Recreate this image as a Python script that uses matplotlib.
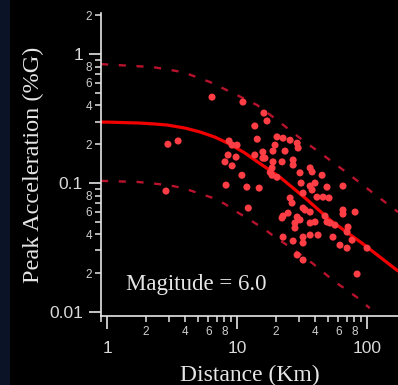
import matplotlib
matplotlib.use('Agg')
import matplotlib.pyplot as plt
from matplotlib.ticker import LogLocator, FuncFormatter
from matplotlib.patches import Rectangle

# recorded peak accelerations (%G) vs distance (km)
dist = [6.42, 11.1, 16.1, 17.0, 13.7, 2.94, 3.52, 8.68, 9.16, 10.0,
        14.3, 20.3, 22.6, 25.6, 29.0, 19.6, 18.9, 23.4, 29.5, 15.8,
        13.7, 16.4, 8.53, 9.83, 8.08, 9.16, 18.9, 22.2, 27.0, 27.0,
        18.6, 36.5, 10.9, 18.6, 20.3, 30.5, 45.1, 31.1, 36.5, 39.8,
        49.2, 65.3, 8.23, 11.9, 14.8, 2.84, 32.2, 41.2, 45.9, 51.0,
        25.6, 26.5, 12.2, 32.2, 65.3, 65.3, 80.9, 24.7, 22.6, 29.0,
        36.5, 47.5, 27.9, 36.5, 39.8, 51.9, 56.7, 27.9, 71.4, 70.2,
        22.6, 32.2, 36.5, 42.0, 54.7, 27.0, 32.2, 61.9, 76.7, 70.2,
        100.0, 29.0, 32.2, 83.8, 37.8, 37.8, 22.2, 30.5, 33.4, 49.2,
        18.0, 15.8]
accel = [0.464, 0.425, 0.349, 0.303, 0.277, 0.200, 0.212, 0.212, 0.197, 0.197,
         0.219, 0.228, 0.223, 0.215, 0.204, 0.197, 0.177, 0.177, 0.187, 0.174,
         0.165, 0.156, 0.165, 0.159, 0.146, 0.136, 0.146, 0.146, 0.151, 0.138,
         0.131, 0.131, 0.115, 0.115, 0.111, 0.120, 0.115, 0.100, 0.0948, 0.100,
         0.0931, 0.0948, 0.0964, 0.0931, 0.0914, 0.0867, 0.0836, 0.0778, 0.0778, 0.0766,
         0.0766, 0.0700, 0.0640, 0.0640, 0.0618, 0.0575, 0.0596, 0.0585, 0.0555, 0.0545,
         0.0596, 0.0555, 0.0490, 0.0490, 0.0499, 0.0490, 0.0472, 0.0448, 0.0456, 0.0417,
         0.0381, 0.0381, 0.0395, 0.0395, 0.0381, 0.0355, 0.0343, 0.0330, 0.0361, 0.0313,
         0.0313, 0.0277, 0.0253, 0.0197, 0.122, 0.0883, 0.0536, 0.0518, 0.0618, 0.0499,
         0.121, 0.156]

# attenuation curve (median) and the dashed bounds
med_d = [0.90, 1.0, 1.79, 2.34, 2.89, 3.98, 5.19, 6.77, 8.83, 11.5, 13.7,
         21.4, 33.4, 51.9, 93.2, 173]
med_a = [0.297, 0.297, 0.292, 0.287, 0.282, 0.267, 0.249, 0.227, 0.200, 0.171, 0.151,
         0.111, 0.0766, 0.0517, 0.0337, 0.0208]

up_d = [0.90, 2.26, 3.84, 6.20, 10.0, 14.3, 20.3, 30.5, 45.9, 70.2, 109, 173]
up_a = [0.836, 0.793, 0.725, 0.607, 0.481, 0.402, 0.308, 0.223, 0.165, 0.120, 0.0851, 0.0596]

lo_d = [0.90, 1.73, 2.94, 3.84, 5.01, 6.53, 8.08, 10.0, 12.6, 15.8, 19.6, 24.3,
        37.8, 45.9, 56.7, 70.2, 85.3, 105]
lo_a = [0.104, 0.102, 0.0965, 0.0915, 0.0837, 0.0766, 0.0688, 0.0596, 0.0517, 0.0448, 0.0381, 0.0330,
        0.0240, 0.0204, 0.0171, 0.0148, 0.0128, 0.0107]

fg = '#e6e6e6'
fig = plt.figure(figsize=(3.98, 3.85), dpi=100, facecolor='black')
fig.patches.append(Rectangle((0, 0), 0.024, 1, transform=fig.transFigure,
                             facecolor='#0b1426', edgecolor='none', zorder=0))

ax = fig.add_axes([0.254, 0.179, 0.746, 0.787])
ax.set_facecolor('black')
ax.set_xscale('log')
ax.set_yscale('log')

ax.plot(up_d, up_a, color='#b8122c', lw=1.7, ls=(0, (3, 4.5)))
ax.plot(lo_d, lo_a, color='#b8122c', lw=1.7, ls=(0, (3, 4.5)))
ax.plot(med_d, med_a, color='#f00000', lw=2.3, solid_capstyle='round')
ax.scatter(dist, accel, s=26, color='#ff3d45', edgecolors='none', zorder=3)

ax.set_xlim(0.90, 173)
ax.set_ylim(0.0093, 2.08)

for s in ['top', 'right']:
    ax.spines[s].set_visible(False)
for s in ['left', 'bottom']:
    ax.spines[s].set_color(fg)
    ax.spines[s].set_linewidth(1.2)

ax.xaxis.set_major_locator(LogLocator(base=10))
ax.yaxis.set_major_locator(LogLocator(base=10))
ax.xaxis.set_minor_locator(LogLocator(base=10, subs=range(2, 10)))
ax.yaxis.set_minor_locator(LogLocator(base=10, subs=range(2, 10)))


def major_fmt(v, pos):
    return '{:g}'.format(v)


def minor_fmt(v, pos):
    lead = int(round(v / 10 ** int(f'{v:e}'.split('e')[1])))
    return str(lead) if lead in (2, 4, 6, 8) else ''


for axis in (ax.xaxis, ax.yaxis):
    axis.set_major_formatter(FuncFormatter(major_fmt))
    axis.set_minor_formatter(FuncFormatter(minor_fmt))

ax.tick_params(which='major', direction='out', length=9, width=1.2, color=fg,
               labelcolor='#d8d8d8', labelsize=12.5)
ax.tick_params(which='minor', direction='out', length=4.5, width=1.1, color=fg,
               labelcolor='#d0d0d0', labelsize=8.5)
ax.tick_params(axis='x', which='major', pad=9)
ax.tick_params(axis='x', which='minor', pad=2.5)
ax.tick_params(axis='y', which='major', pad=4)
ax.tick_params(axis='y', which='minor', pad=2)
for lab in ax.get_xticklabels(which='both') + ax.get_yticklabels(which='both'):
    lab.set_family('Liberation Sans')

ax.set_xlabel('Distance (Km)', family='Liberation Serif', fontsize=17, color=fg, labelpad=6)
ax.set_ylabel('Peak Acceleration (%G)', family='Liberation Serif', fontsize=17.5, color=fg, labelpad=4)
ax.text(0.085, 0.085, 'Magitude = 6.0', transform=ax.transAxes, family='Liberation Serif',
        fontsize=16.5, color=fg)

fig.savefig('out.png', dpi=100, facecolor='black')
